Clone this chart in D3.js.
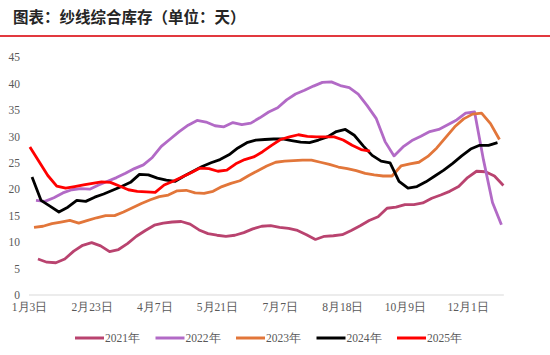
<!DOCTYPE html>
<html><head><meta charset="utf-8">
<script src="https://cdn.jsdelivr.net/npm/d3@7"></script>
<style>
html,body{margin:0;padding:0;background:#fff;}
svg{display:block;}
</style></head>
<body>
<script>
// ---- data ----
const title = "图表：纱线综合库存（单位：天）";
const seriesNames = ["2021年","2022年","2023年","2024年","2025年"];
const seriesColors = ["#b9436f","#b26ac6","#e2763a","#000000","#ff0000"];
// first weekly observation offset (in weeks) relative to 1月3日
const seriesStart = [1.0, 0.78, 0.56, 0.34, 0.1];
const v2021 = [6.8,6.2,6.1,6.8,8.3,9.4,9.9,9.3,8.2,8.6,9.7,11.1,12.2,13.2,13.6,13.8,13.9,13.4,12.3,11.6,11.3,11.1,11.3,11.8,12.5,13.0,13.1,12.8,12.6,12.2,11.4,10.5,11.1,11.2,11.4,12.2,13.1,14.1,14.8,16.4,16.6,17.1,17.1,17.4,18.3,18.9,19.6,20.5,22.2,23.4,23.3,22.5,20.7];
const v2022 = [17.9,17.7,18.4,19.3,19.9,20.1,20.0,20.8,21.5,22.2,23.0,23.9,24.6,26.0,28.1,29.5,30.9,32.1,33.0,32.7,32.0,31.8,32.6,32.2,32.5,33.5,34.6,35.4,36.9,38.0,38.7,39.5,40.2,40.3,39.6,39.2,38.0,35.8,33.4,29.0,26.3,28.0,29.2,30.0,30.9,31.3,32.2,33.1,34.4,34.6,25.5,17.5,13.3];
const v2023 = [12.8,13.0,13.5,13.8,14.1,13.6,14.1,14.6,15.0,15.0,15.7,16.5,17.3,18.0,18.6,18.9,19.7,19.8,19.3,19.2,19.6,20.5,21.1,21.6,22.6,23.5,24.4,25.1,25.3,25.4,25.5,25.5,25.1,24.7,24.2,23.9,23.5,23.0,22.7,22.5,22.5,24.4,24.8,25.1,26.2,27.8,29.8,31.8,33.3,34.2,34.4,32.4,29.4];
const v2024 = [22.3,17.9,16.8,15.7,16.6,17.9,17.7,18.5,19.1,19.8,20.5,21.3,22.8,22.7,22.1,21.7,21.5,22.5,23.4,24.3,25.0,25.6,26.5,27.8,28.8,29.3,29.4,29.5,29.5,29.2,28.9,28.8,29.3,29.9,30.9,31.3,30.2,28.2,26.4,25.3,25.0,21.5,20.2,20.5,21.4,22.5,23.6,24.9,26.3,27.6,28.3,28.3,28.8];
const v2025 = [28.0,25.3,22.6,20.6,20.2,20.5,20.8,21.1,21.4,21.3,20.6,19.9,19.6,19.5,19.4,20.8,21.5,22.3,23.1,24.0,23.9,23.4,23.6,24.8,25.6,26.1,27.1,28.3,29.4,29.9,30.3,30.0,29.9,29.9,29.9,29.3,28.3,27.5,27.2];
const seriesValues = [v2021, v2022, v2023, v2024, v2025];
const xTickLabels = ["1月3日","2月23日","4月7日","5月21日","7月7日","8月18日","10月9日","12月1日"];
const xTickWeeks = [0,7,14,21,28,35,42,49];
const yTicks = [0,5,10,15,20,25,30,35,40,45];

// ---- layout ----
const W = 550, H = 355;
const svg = d3.select("body").append("svg").attr("width", W).attr("height", H);

const x = d3.scaleLinear().domain([0, 53]).range([29, 503.4]);
const y = d3.scaleLinear().domain([0, 45]).range([295, 57]);

const serif = "'Times New Roman','Liberation Serif','DejaVu Serif',serif";
const labelColor = "#595959";

// title
svg.append("text").attr("x", 13).attr("y", 23)
  .attr("font-family", "'Noto Sans CJK SC','Noto Sans',sans-serif")
  .attr("font-size", 15.5).attr("font-weight", 700).attr("fill", "#262626")
  .text(title);
svg.append("line").attr("x1", 0).attr("x2", W).attr("y1", 36).attr("y2", 36)
  .attr("stroke", "#e2393f").attr("stroke-width", 2);

// y axis labels
const yAxis = d3.axisLeft(y).tickValues(yTicks).tickSize(0).tickPadding(0).tickFormat(d3.format("d"));
const yg = svg.append("g").attr("transform", "translate(20,0)").call(yAxis);
yg.select(".domain").remove();
yg.selectAll("text").attr("font-family", serif).attr("font-size", 11.5).attr("fill", labelColor);

// x axis
const xAxis = d3.axisBottom(x).tickValues(xTickWeeks).tickSize(0).tickPadding(0)
  .tickFormat((d, i) => xTickLabels[i]);
const xg = svg.append("g").attr("transform", "translate(0,295)").call(xAxis);
xg.select(".domain").remove();
xg.selectAll("text").attr("font-family", serif).attr("font-size", 11.5).attr("fill", labelColor)
  .attr("dy", "1.35em");
svg.append("line").attr("x1", x(0)).attr("x2", x(53.05)).attr("y1", y(0)).attr("y2", y(0))
  .attr("stroke", "#d9d9d9").attr("stroke-width", 1);

// lines
const line = d3.line().x(d => x(d[0])).y(d => y(d[1])).curve(d3.curveLinear);
seriesValues.forEach((vals, k) => {
  const pts = vals.map((v, i) => [seriesStart[k] + i, v]);
  svg.append("path").datum(pts).attr("d", line)
    .attr("fill", "none").attr("stroke", seriesColors[k]).attr("stroke-width", 2.8)
    .attr("stroke-linejoin", "round").attr("stroke-linecap", "butt");
});

// legend
const legendX0 = 75, legendStep = 80.5, legendY = 338;
seriesNames.forEach((name, k) => {
  const g = svg.append("g").attr("transform", `translate(${legendX0 + k * legendStep},${legendY})`);
  g.append("line").attr("x1", 0).attr("x2", 29).attr("y1", 0).attr("y2", 0)
    .attr("stroke", seriesColors[k]).attr("stroke-width", 3);
  g.append("text").attr("x", 30).attr("y", 0).attr("dy", "0.36em")
    .attr("font-family", serif).attr("font-size", 11.5).attr("fill", labelColor)
    .text(name);
});
</script>
</body></html>
